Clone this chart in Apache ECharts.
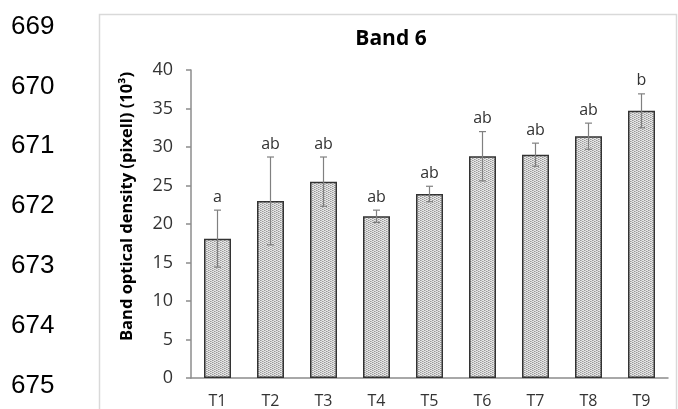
<!DOCTYPE html>
<html>
<head>
<meta charset="utf-8">
<script src="https://cdn.jsdelivr.net/npm/echarts@6/dist/echarts.min.js"></script>
<style>
html,body{margin:0;padding:0;background:#fff;}
#chart{width:678px;height:409px;}
</style>
</head>
<body>
<div id="chart"></div>
<script>
// ---- data ----
const categories = ['T1','T2','T3','T4','T5','T6','T7','T8','T9'];
const means      = [18.1, 23.0, 25.5, 21.0, 23.9, 28.8, 29.0, 31.4, 34.7];
const errors     = [3.7, 5.7, 3.2, 0.8, 1.0, 3.2, 1.5, 1.7, 2.2];
const letters    = ['a','ab','ab','ab','ab','ab','ab','ab','b'];
const yTicks     = [0, 5, 10, 15, 20, 25, 30, 35, 40];
const lineNumbers = ['669','670','671','672','673','674','675'];
const titleText  = 'Band 6';
const yAxisTitle = 'Band optical density (pixell) (10³)';

const FONT = '"Open Sans"';

// stippled pattern for bars
const pc = document.createElement('canvas');
pc.width = 4; pc.height = 4;
const pctx = pc.getContext('2d');
pctx.fillStyle = '#e6e6e6';
pctx.fillRect(0,0,4,4);
pctx.fillStyle = '#9a9a9a';
pctx.fillRect(0,0,1,1); pctx.fillRect(2,1,1,1); pctx.fillRect(0,2,1,1); pctx.fillRect(2,3,1,1);
pctx.fillStyle = '#bdbdbd';
pctx.fillRect(1,0,1,1); pctx.fillRect(3,1,1,1); pctx.fillRect(1,2,1,1); pctx.fillRect(3,3,1,1);

const chart = echarts.init(document.getElementById('chart'), null, {renderer:'canvas'});

const lineNumGraphics = lineNumbers.map((t,i)=>({
  type:'text', x: 11, y: 26.5 + i*59.9,
  style:{text:t, font:'26px "Liberation Sans"', fill:'#000', align:'left', verticalAlign:'middle'}
}));

const errData = categories.map((c,i)=>[i, means[i]-errors[i], means[i]+errors[i]]);

chart.setOption({
  animation:false,
  backgroundColor:'#fff',
  grid:{left:191, right:10, top:70, bottom:31, containLabel:false},
  graphic:[
    {type:'rect', shape:{x:99.5, y:14.5, width:577, height:420}, style:{fill:'none', stroke:'#d9d9d9', lineWidth:1.5}, z:-1},
    {type:'text', x:391, y:39, style:{text:titleText, font:'bold 21px ' + FONT, fill:'#000', align:'center', verticalAlign:'middle'}},
    {type:'text', x:127, y:206.5, rotation:Math.PI/2,
     style:{text:yAxisTitle, font:'bold 16.5px ' + FONT, fill:'#000', align:'center', verticalAlign:'middle'}}
  ].concat(lineNumGraphics),
  xAxis:{
    type:'category', data:categories,
    axisLine:{lineStyle:{color:'#8c8c8c', width:1.5}},
    axisTick:{show:false},
    axisLabel:{color:'#333', fontFamily:'Open Sans', fontSize:16, margin:15}
  },
  yAxis:{
    type:'value', min:yTicks[0], max:yTicks[yTicks.length-1], interval:yTicks[1]-yTicks[0],
    axisLine:{show:true, lineStyle:{color:'#8c8c8c', width:1.5}},
    axisTick:{show:true, length:5, lineStyle:{color:'#8c8c8c', width:1.5}},
    splitLine:{show:false},
    axisLabel:{color:'#333', fontFamily:'Open Sans', fontSize:18, margin:18}
  },
  series:[
    {
      type:'bar', data:means, barWidth:27,
      itemStyle:{color:{image:pc, repeat:'repeat'}, borderColor:'#333', borderWidth:1.5}
    },
    {
      type:'custom', data:errData, z:5,
      renderItem:function(params, api){
        const i = api.value(0);
        const lo = api.coord([i, api.value(1)]);
        const hi = api.coord([i, api.value(2)]);
        const letter = letters[i];
        const cap = 3.5;
        const st = {stroke:'#808080', lineWidth:1.2};
        return {type:'group', children:[
          {type:'line', shape:{x1:hi[0], y1:hi[1], x2:lo[0], y2:lo[1]}, style:st},
          {type:'line', shape:{x1:hi[0]-cap, y1:hi[1], x2:hi[0]+cap, y2:hi[1]}, style:st},
          {type:'line', shape:{x1:lo[0]-cap, y1:lo[1], x2:lo[0]+cap, y2:lo[1]}, style:st},
          {type:'text', x:hi[0], y:hi[1]-5, style:{text:letter, align:'center', verticalAlign:'bottom', font:'16px ' + FONT, fill:'#333'}}
        ]};
      }
    }
  ]
});
</script>
</body>
</html>
